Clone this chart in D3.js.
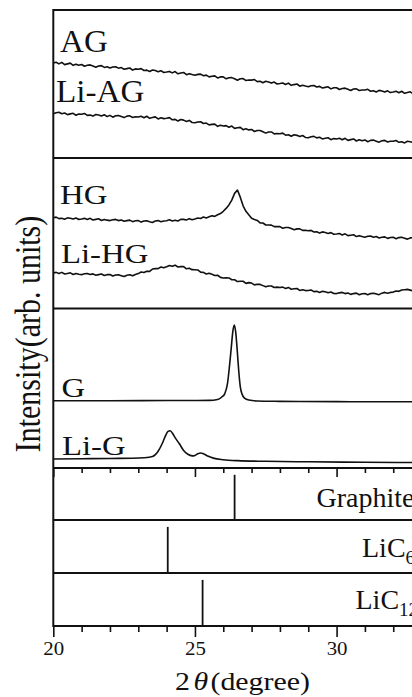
<!DOCTYPE html>
<html>
<head>
<meta charset="utf-8">
<script src="https://cdn.jsdelivr.net/npm/d3@7/dist/d3.min.js"></script>
<style>
  html, body { margin: 0; padding: 0; background: #fff; }
  svg { display: block; }
  text { font-family: "Liberation Serif", "Times New Roman", serif; fill: #111; }
</style>
</head>
<body>
<div id="xrd-chart"></div>
<script>
// sampling angles (2θ, degree) of the noisy scans
const twoTheta = [
  20.0, 20.1, 20.2, 20.3, 20.4, 20.5, 20.6, 20.7, 20.8, 20.9,
  21.0, 21.1, 21.2, 21.3, 21.4, 21.5, 21.6, 21.7, 21.8, 21.9,
  22.0, 22.1, 22.2, 22.3, 22.4, 22.5, 22.6, 22.7, 22.8, 22.9,
  23.0, 23.1, 23.2, 23.3, 23.4, 23.5, 23.6, 23.7, 23.8, 23.9,
  24.0, 24.1, 24.2, 24.3, 24.4, 24.5, 24.6, 24.7, 24.8, 24.9,
  25.0, 25.1, 25.2, 25.3, 25.4, 25.5, 25.6, 25.7, 25.8, 25.9,
  26.0, 26.1, 26.2, 26.3, 26.4, 26.5, 26.6, 26.7, 26.8, 26.9,
  27.0, 27.1, 27.2, 27.3, 27.4, 27.5, 27.6, 27.7, 27.8, 27.9,
  28.0, 28.1, 28.2, 28.3, 28.4, 28.5, 28.6, 28.7, 28.8, 28.9,
  29.0, 29.1, 29.2, 29.3, 29.4, 29.5, 29.6, 29.7, 29.8, 29.9,
  30.0, 30.1, 30.2, 30.3, 30.4, 30.5, 30.6, 30.7, 30.8, 30.9,
  31.0, 31.1, 31.2, 31.3, 31.4, 31.5, 31.6, 31.7, 31.8, 31.9,
  32.0, 32.1, 32.2, 32.3, 32.4, 32.5, 32.6, 32.7, 32.8, 32.9,
  33.0
];

// intensities, arb. units (0-100 of their own panel)
const agIntensity = [
  64.2, 64.7, 63.6, 64.6, 63.1, 63.6, 64.1, 62.6, 63.4, 62.7,
  63.2, 62.0, 62.7, 62.9, 62.1, 61.3, 62.2, 62.4, 61.2, 61.6,
  60.8, 61.5, 61.7, 60.7, 61.1, 60.0, 60.4, 60.8, 59.4, 60.2,
  60.0, 60.4, 59.1, 59.4, 58.4, 59.5, 59.1, 58.3, 59.0, 57.8,
  58.1, 58.5, 57.5, 58.4, 56.9, 57.4, 57.8, 56.3, 57.0, 56.4,
  55.9, 56.5, 56.7, 55.6, 56.0, 54.8, 55.2, 55.5, 54.1, 54.8,
  54.8, 53.5, 54.2, 54.3, 53.5, 52.6, 53.5, 53.6, 52.4, 52.7,
  52.6, 53.0, 51.6, 51.9, 50.9, 51.9, 51.4, 50.6, 51.3, 50.0,
  50.3, 50.7, 49.7, 50.6, 49.1, 49.6, 50.0, 48.5, 49.2, 48.6,
  48.1, 48.8, 49.0, 48.0, 48.4, 47.3, 47.7, 48.1, 46.7, 47.5,
  47.5, 46.3, 47.0, 47.2, 46.4, 45.6, 46.6, 46.7, 45.6, 45.9,
  45.9, 46.4, 45.1, 45.5, 44.6, 45.7, 45.3, 44.6, 45.4, 44.2,
  44.6, 45.1, 44.1, 45.1, 43.7, 44.2, 44.7, 43.3, 44.1, 43.5,
  43.6
];
const liAgIntensity = [
  29.9, 30.6, 30.9, 29.9, 30.4, 29.3, 29.8, 30.2, 28.9, 29.7,
  29.6, 30.1, 28.8, 29.0, 28.3, 29.4, 29.1, 28.4, 29.2, 28.0,
  28.8, 27.6, 28.5, 28.7, 28.0, 27.3, 28.3, 28.5, 27.4, 27.9,
  27.7, 28.2, 27.2, 28.2, 26.8, 27.3, 27.8, 26.4, 27.2, 26.6,
  26.9, 27.3, 25.8, 26.1, 25.0, 26.0, 25.6, 24.7, 25.4, 24.0,
  23.8, 24.3, 24.5, 23.3, 23.6, 22.4, 22.7, 22.9, 21.4, 22.1,
  21.6, 21.9, 20.8, 21.6, 20.0, 20.4, 20.7, 19.1, 19.7, 19.0,
  19.3, 17.9, 18.6, 18.6, 17.7, 16.8, 17.6, 17.6, 16.3, 16.6,
  16.4, 16.8, 15.4, 15.7, 14.7, 15.7, 15.3, 14.5, 15.2, 13.9,
  13.7, 14.4, 14.6, 13.6, 14.0, 12.9, 13.4, 13.7, 12.4, 13.1,
  12.8, 13.3, 12.3, 13.3, 11.9, 12.4, 12.9, 11.5, 12.3, 11.7,
  12.2, 11.0, 11.9, 12.1, 11.4, 10.7, 11.7, 11.9, 10.8, 11.3,
  11.3, 11.8, 10.6, 11.0, 10.2, 11.3, 11.0, 10.4, 11.2, 10.1,
  10.5
];
const hgIntensity = [
  60.3, 60.7, 59.7, 60.0, 59.3, 60.2, 60.0, 59.4, 60.1, 59.2,
  59.5, 59.9, 59.1, 59.9, 58.8, 59.2, 59.6, 58.5, 59.2, 58.7,
  58.4, 59.0, 59.2, 58.4, 58.8, 58.0, 58.4, 58.7, 57.7, 58.3,
  58.4, 57.4, 58.1, 58.3, 57.7, 57.2, 58.1, 58.4, 57.7, 58.1,
  58.3, 58.9, 58.1, 58.6, 58.1, 59.2, 59.2, 58.8, 59.7, 59.0,
  59.5, 60.1, 59.8, 60.8, 60.2, 60.9, 61.6, 61.2, 62.3, 63.1,
  64.6, 66.5, 68.8, 72.0, 76.5, 78.7, 74.0, 68.2, 64.6, 62.3,
  60.0, 59.2, 58.5, 56.9, 56.8, 55.5, 55.5, 55.4, 54.4, 54.5,
  54.4, 53.3, 53.8, 53.8, 53.1, 52.3, 52.9, 52.9, 51.9, 52.0,
  51.7, 51.9, 50.8, 51.0, 50.1, 50.9, 50.5, 49.9, 50.4, 49.3,
  49.5, 49.8, 48.9, 49.6, 48.4, 48.7, 49.0, 47.8, 48.4, 47.8,
  47.4, 48.0, 48.2, 47.4, 47.8, 46.9, 47.3, 47.6, 46.6, 47.2,
  47.3, 46.4, 47.1, 47.3, 46.7, 46.1, 46.9, 47.1, 46.3, 46.6,
  46.5
];
const liHgIntensity = [
  23.6, 24.0, 23.2, 24.0, 22.9, 23.3, 23.7, 22.6, 23.3, 22.8,
  22.5, 23.1, 23.3, 22.6, 23.0, 22.1, 22.5, 22.9, 21.9, 22.5,
  22.6, 21.6, 22.3, 22.4, 21.8, 21.2, 22.1, 22.4, 21.7, 22.6,
  23.2, 24.2, 23.9, 24.8, 24.7, 26.2, 26.5, 26.5, 27.6, 27.1,
  27.8, 28.6, 28.0, 28.8, 27.6, 27.8, 27.9, 26.4, 26.7, 25.8,
  25.7, 25.6, 24.1, 24.0, 22.9, 23.4, 22.7, 21.9, 22.1, 20.7,
  20.3, 20.4, 20.3, 19.1, 19.1, 17.9, 18.1, 18.1, 16.7, 17.2,
  16.9, 15.7, 16.1, 16.0, 15.2, 14.4, 15.0, 15.0, 14.0, 14.2,
  13.9, 14.2, 13.3, 14.0, 12.8, 13.1, 13.3, 12.0, 12.5, 11.9,
  12.0, 12.3, 11.2, 11.4, 10.6, 11.4, 11.1, 10.5, 11.0, 10.0,
  9.9, 10.4, 10.7, 9.9, 10.3, 9.4, 9.9, 10.2, 9.1, 9.8,
  9.9, 9.1, 9.9, 10.1, 9.7, 9.2, 10.2, 10.7, 10.1, 10.7,
  10.9, 11.6, 11.4, 12.3, 12.5, 12.7, 12.2, 11.7, 12.0, 11.4,
  11.6
];

// smooth scans, sampled more densely around the peaks
const gAngles = [20, 22, 24, 25.5, 25.8, 25.95, 26.05, 26.15, 26.22, 26.28, 26.34, 26.39,
  26.44, 26.5, 26.55, 26.6, 26.67, 26.75, 26.9, 27.2, 28, 30, 33];
const gIntensity = [42.2, 42.2, 42.3, 42.4, 43.0, 44.5, 46.5, 53, 64, 75, 86, 89.7,
  85, 72, 60, 51, 46, 43.8, 42.6, 42.0, 41.8, 41.6, 41.5];
const liGAngles = [20, 21, 22, 22.8, 23.2, 23.5, 23.7, 23.85, 23.95, 24.05, 24.12, 24.2,
  24.3, 24.45, 24.6, 24.75, 24.9, 25.0, 25.1, 25.2, 25.3, 25.45, 25.65, 26, 26.5, 27.5, 29, 31, 33];
const liGIntensity = [5.6, 5.8, 6.0, 6.1, 6.4, 7.2, 10.5, 15.5, 19.8, 23.0, 23.4, 22.0,
  19.0, 15.2, 11.0, 8.6, 7.6, 7.9, 8.9, 9.4, 9.0, 7.5, 6.2, 5.2, 4.6, 4.2, 3.9, 3.6, 3.4];

// reference patterns
const refNames = ["Graphite", "LiC", "LiC"];
const refSubscripts = ["", "6", "12"];
const refAngles = [26.4, 24.04, 25.27];
const refIntensity = [100, 100, 100];

const majorTicks = [20, 25, 30];
const minorTicks = [21, 22, 23, 24, 26, 27, 28, 29, 31, 32, 33];

const width = 412, height = 697;
const ink = "#111";
const panelEdges = [10, 158, 308.5, 468, 520, 573, 626];

const x = d3.scaleLinear().domain([20, 33.4]).range([53.3, 432.9]);

function panelY(i, max) {
  return d3.scaleLinear().domain([0, max]).range([panelEdges[i + 1], panelEdges[i]]);
}

const svg = d3.select("#xrd-chart")
  .append("svg")
  .attr("width", width)
  .attr("height", height);

// 掃描曲線
const spectra = [
  { name: "AG", panel: 0, angles: twoTheta, values: agIntensity, lx: 60, ly: 52, fs: 31, sx: 1.07 },
  { name: "Li-AG", panel: 0, angles: twoTheta, values: liAgIntensity, lx: 56, ly: 101.5, fs: 31, sx: 1.07 },
  { name: "HG", panel: 1, angles: twoTheta, values: hgIntensity, lx: 60, ly: 203.5, fs: 28, sx: 1.17 },
  { name: "Li-HG", panel: 1, angles: twoTheta, values: liHgIntensity, lx: 61, ly: 263, fs: 28, sx: 1.17 },
  { name: "G", panel: 2, angles: gAngles, values: gIntensity, lx: 61.5, ly: 396.5, fs: 28, sx: 1.17 },
  { name: "Li-G", panel: 2, angles: liGAngles, values: liGIntensity, lx: 62, ly: 454.5, fs: 28, sx: 1.17 }
];

spectra.forEach((s) => {
  const y = panelY(s.panel, 100);
  const smooth = s.angles !== twoTheta;
  const line = d3.line()
    .x((d) => x(d[0]))
    .y((d) => y(d[1]))
    .curve(smooth ? d3.curveMonotoneX : d3.curveLinear);

  svg.append("path")
    .datum(d3.zip(s.angles, s.values))
    .attr("d", line)
    .attr("fill", "none")
    .attr("stroke", ink)
    .attr("stroke-width", smooth ? 1.6 : 1.6)
    .attr("stroke-linejoin", "round");

  svg.append("text")
    .attr("transform", `translate(${s.lx},${s.ly}) scale(${s.sx},1)`)
    .style("font-size", `${s.fs}px`)
    .text(s.name);
});

// 參考譜線
refAngles.forEach((a, i) => {
  const y = panelY(3 + i, 115);
  svg.append("line")
    .attr("x1", x(a))
    .attr("x2", x(a))
    .attr("y1", y(0))
    .attr("y2", y(refIntensity[i]))
    .attr("stroke", ink)
    .attr("stroke-width", 1.8);
});

const refLabelPos = [[316.5, 506.5], [362, 556.5], [355.5, 609]];
refNames.forEach((n, i) => {
  const t = svg.append("text")
    .attr("transform", `translate(${refLabelPos[i][0]},${refLabelPos[i][1]})`)
    .style("font-size", "28px")
    .text(n);
  if (refSubscripts[i]) {
    t.append("tspan")
      .attr("dy", 7)
      .style("font-size", "19px")
      .text(refSubscripts[i]);
  }
});

// 外框與分隔線
panelEdges.forEach((e) => {
  svg.append("line")
    .attr("x1", x.range()[0])
    .attr("x2", x.range()[1])
    .attr("y1", e)
    .attr("y2", e)
    .attr("stroke", ink)
    .attr("stroke-width", 2);
});
[x.range()[0], x.range()[1]].forEach((px) => {
  svg.append("line")
    .attr("x1", px)
    .attr("x2", px)
    .attr("y1", panelEdges[0] - 1)
    .attr("y2", panelEdges[6] + 1)
    .attr("stroke", ink)
    .attr("stroke-width", 2);
});

// 刻度
function tickRow(yPos, values, size, withLabels) {
  const g = svg.append("g")
    .attr("transform", `translate(0,${yPos})`)
    .call(d3.axisBottom(x).tickValues(values).tickSize(size).tickPadding(5)
      .tickFormat(withLabels ? d3.format("d") : ""));
  g.select(".domain").remove();
  g.selectAll(".tick line").attr("stroke", ink).attr("stroke-width", 1.6);
  g.selectAll(".tick text")
    .attr("transform", "scale(1.1,1)")
    .style("font-family", "'Liberation Serif', serif")
    .style("font-size", "19px")
    .attr("fill", ink);
  return g;
}

tickRow(panelEdges[3], minorTicks, 5, false);
tickRow(panelEdges[3], majorTicks, 9, false);
tickRow(panelEdges[6], minorTicks, 6, false);
tickRow(panelEdges[6], majorTicks, 11, true);

// 軸標題
const xTitle = svg.append("text")
  .attr("transform", "translate(242.5,690) scale(1.15,1)")
  .attr("text-anchor", "middle")
  .style("font-size", "26px");
xTitle.append("tspan").text("2");
xTitle.append("tspan").attr("dx", 3).style("font-style", "italic").text("θ");
xTitle.append("tspan").attr("dx", 2).text("(degree)");

svg.append("text")
  .attr("transform", "translate(39.5,334) scale(1.2,1) rotate(-90)")
  .attr("text-anchor", "middle")
  .style("font-size", "30px")
  .text("Intensity(arb. units)");
</script>
</body>
</html>
